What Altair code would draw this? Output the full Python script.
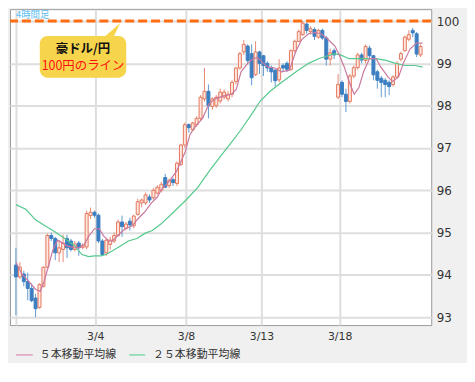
import altair as alt
import pandas as pd

# ---- candle data (4-hour AUD/JPY) ----
open_ = [94.23, 93.95, 94.02, 93.84, 93.68, 93.45, 93.23, 93.73, 94.18, 94.93,
         94.86, 94.52, 94.60, 94.86, 94.80, 94.60, 94.75, 94.65, 94.66, 95.40,
         95.48, 95.41, 94.80, 94.52, 94.72, 94.80, 94.93, 95.25, 95.10, 95.27,
         95.16, 95.43, 95.70, 95.70, 95.84, 95.82, 95.93, 96.00, 96.30, 96.11,
         96.25, 96.16, 96.61, 97.07, 97.55, 97.43, 97.55, 97.70, 98.16, 98.34,
         97.98, 98.00, 98.11, 98.20, 98.16, 98.27, 98.57, 98.89, 99.27, 99.41,
         99.23, 98.73, 99.27, 99.18, 99.00, 98.90, 98.84, 98.61, 98.95, 99.00,
         98.86, 99.30, 99.52, 99.68, 99.93, 99.75, 99.80, 99.62, 99.78, 99.60,
         99.10, 99.30, 98.20, 98.55, 98.27, 98.10, 98.70, 98.90, 99.20, 99.07,
         99.36, 99.18, 98.80, 98.65, 98.60, 98.55, 98.50, 98.68, 99.10, 99.30,
         99.57, 99.78, 99.70, 99.20]
high = [94.64, 94.30, 94.10, 94.05, 93.80, 93.55, 93.80, 94.20, 94.98, 95.00,
        94.90, 94.82, 94.95, 94.95, 94.85, 94.80, 94.80, 94.75, 95.52, 95.59,
        95.52, 95.45, 94.85, 94.85, 94.90, 95.00, 95.30, 95.40, 95.25, 95.35,
        95.42, 95.80, 95.80, 95.95, 95.90, 96.05, 96.12, 96.20, 96.39, 96.28,
        96.30, 96.68, 97.10, 97.60, 97.58, 97.62, 97.75, 98.25, 98.89, 98.50,
        98.20, 98.25, 98.40, 98.38, 98.35, 98.60, 98.92, 99.27, 99.55, 99.45,
        99.45, 99.52, 99.30, 99.20, 99.05, 98.95, 98.86, 99.10, 99.00, 99.05,
        99.33, 99.56, 99.80, 100.00, 99.95, 99.88, 99.85, 99.82, 99.82, 99.65,
        99.35, 99.35, 98.75, 98.60, 98.40, 98.75, 98.95, 99.25, 99.25, 99.45,
        99.42, 99.20, 98.85, 98.70, 98.65, 98.60, 98.72, 99.05, 99.28, 99.66,
        99.78, 99.84, 99.74, 99.45]
low = [93.05, 93.90, 93.73, 93.40, 93.35, 93.00, 93.20, 93.70, 94.15, 94.80,
       94.35, 94.30, 94.30, 94.40, 94.55, 94.55, 94.45, 94.60, 94.60, 95.32,
       95.35, 94.75, 94.45, 94.45, 94.60, 94.75, 94.90, 94.90, 95.05, 95.05,
       95.10, 95.40, 95.60, 95.65, 95.70, 95.78, 95.90, 95.95, 96.05, 96.05,
       96.10, 96.10, 96.58, 97.00, 97.36, 97.40, 97.50, 97.65, 98.10, 97.70,
       97.90, 97.95, 98.05, 98.15, 98.10, 98.20, 98.50, 98.85, 99.20, 99.00,
       98.48, 98.70, 98.75, 98.70, 98.80, 98.55, 98.45, 98.55, 98.80, 98.80,
       98.82, 99.25, 99.50, 99.65, 99.70, 99.68, 99.55, 99.58, 99.55, 98.95,
       98.95, 99.10, 98.15, 98.20, 97.85, 98.05, 98.65, 98.85, 99.00, 99.00,
       99.10, 98.60, 98.40, 98.20, 98.20, 98.25, 98.45, 98.65, 99.05, 99.28,
       99.52, 99.62, 99.15, 99.15]
close = [93.95, 94.18, 93.84, 93.68, 93.39, 93.20, 93.77, 94.18, 94.93, 94.86,
         94.52, 94.64, 94.75, 94.64, 94.60, 94.73, 94.64, 94.70, 95.45, 95.48,
         95.41, 94.80, 94.48, 94.82, 94.82, 94.93, 95.25, 95.14, 95.20, 95.18,
         95.39, 95.73, 95.77, 95.89, 95.77, 96.00, 96.07, 96.14, 96.07, 96.23,
         96.18, 96.64, 97.07, 97.55, 97.48, 97.59, 97.70, 98.20, 98.34, 98.00,
         98.16, 98.20, 98.32, 98.32, 98.27, 98.55, 98.89, 99.23, 99.45, 99.07,
         98.66, 99.27, 99.00, 98.95, 98.89, 98.80, 98.59, 98.89, 98.89, 98.86,
         99.30, 99.52, 99.75, 99.95, 99.78, 99.82, 99.64, 99.78, 99.60, 99.10,
         99.25, 99.20, 98.50, 98.27, 98.10, 98.70, 98.90, 99.20, 99.08, 99.40,
         99.18, 98.73, 98.60, 98.55, 98.50, 98.45, 98.68, 99.00, 99.23, 99.62,
         99.68, 99.72, 99.22, 99.40]

# ---- moving-average lines (candle index, price) ----
ma5_x = [0, 1.5, 3.3, 5.0, 6.2, 7.0, 8.2, 9.4, 10.6, 11.9, 13.1, 14.8, 16.0, 17.3,
         18.5, 20.0, 21.2, 22.4, 23.7, 24.6, 25.9, 27.8, 29.6, 31.0, 32.7, 34.5,
         36.0, 36.9, 38.9, 40.9, 43.1, 44.3, 45.8, 47.5, 49.2, 50.7, 52.9, 54.9,
         56.1, 57.3, 59.0, 60.3, 61.5, 63.0, 64.2, 65.9, 67.6, 69.6, 71.3, 72.8,
         74.5, 76.2, 77.7, 79.4, 81.2, 82.4, 83.6, 84.8, 86.1, 87.3, 88.5, 90.0,
         91.7, 92.9, 94.7, 95.9, 97.4, 98.6, 100.3, 102.0, 103.5]
ma5_y = [94.30, 94.02, 93.84, 93.66, 93.61, 93.80, 94.18, 94.59, 94.82, 94.75,
         94.68, 94.64, 94.64, 94.70, 94.91, 95.09, 95.09, 94.91, 94.80, 94.80,
         94.93, 95.09, 95.16, 95.32, 95.48, 95.70, 95.84, 96.00, 96.20, 96.45,
         96.91, 97.32, 97.52, 97.70, 98.05, 98.16, 98.23, 98.27, 98.39, 98.80,
         99.00, 99.11, 99.14, 99.00, 98.91, 98.89, 98.80, 98.84, 99.30, 99.57,
         99.70, 99.73, 99.70, 99.57, 99.41, 99.18, 98.91, 98.57, 98.27, 98.43,
         98.80, 99.11, 99.11, 98.91, 98.68, 98.57, 98.68, 99.00, 99.34, 99.48,
         99.48]
ma25_x = [0, 2.5, 5.0, 7.4, 9.9, 12.4, 14.8, 16.8, 18.5, 20.0, 21.7, 22.9, 24.6,
          26.6, 28.6, 30.8, 32.8, 34.7, 36.9, 40.1, 43.3, 46.3, 49.2, 52.4, 54.9,
          57.3, 59.8, 62.2, 64.7, 67.9, 71.3, 74.5, 77.0, 79.4, 81.2, 82.6, 84.8,
          86.8, 89.3, 91.7, 94.2, 96.6, 99.1, 101.6, 103.5]
ma25_y = [95.66, 95.55, 95.30, 95.16, 95.02, 94.86, 94.70, 94.48, 94.43, 94.45,
          94.45, 94.48, 94.57, 94.68, 94.80, 94.86, 94.98, 95.05, 95.20, 95.48,
          95.77, 96.07, 96.45, 96.84, 97.14, 97.43, 97.77, 98.11, 98.34, 98.57,
          98.80, 99.00, 99.11, 99.18, 99.23, 99.20, 99.11, 99.11, 99.11, 99.11,
          99.07, 99.00, 98.95, 98.95, 98.91]

# ---- axes ----
tick_pos = [0, 20.2, 43.3, 62.5, 82.4]
tick_labels = ["", "3/4", "3/8", "3/13", "3/18"]
y_ticks = [93, 94, 95, 96, 97, 98, 99, 100]
line_level = [100]

# ---- styles ----
UP_STROKE = "#e6785e"
UP_FILL = "#fce6de"
UP_WICK = "#e88a76"
DOWN_FILL = "#3b7ec1"
DOWN_WICK = "#5f9ad3"
PINK = "#c9789f"
GREEN = "#55c98e"
GRID = "#dedede"
JP = "Noto Sans CJK JP"

W, H = 424, 318
xscale = alt.Scale(domain=[-0.25, 104.45], nice=False, zero=False)
yscale = alt.Scale(domain=[92.812, 100.282], nice=False, zero=False)

label_expr = "".join(
    f"datum.value == {v} ? '{l}' : " for v, l in zip(tick_pos, tick_labels)
) + "''"

xaxis = alt.Axis(values=tick_pos, labelExpr=label_expr, grid=True, gridColor=GRID,
                 gridWidth=2, ticks=False, domain=False, labelPadding=6,
                 labelFontSize=11, labelFont="DejaVu Sans", labelColor="#333333",
                 title=None, labelFlush=False, labelOverlap=False)
yaxis = alt.Axis(orient="right", values=y_ticks, grid=True, gridColor=GRID,
                 gridWidth=2, ticks=False, domain=False, labelPadding=5,
                 labelFontSize=12, labelFont="DejaVu Sans", labelColor="#333333",
                 title=None, labelAlign="left")

df = pd.DataFrame({
    "i": list(range(len(open_))),
    "open": open_, "high": high, "low": low, "close": close,
})
df["dir"] = ["up" if c >= o else "down" for o, c in zip(open_, close)]

wick = alt.Chart(df).mark_rule(strokeWidth=1, clip=True).encode(
    x=alt.X("i:Q", scale=xscale, axis=xaxis),
    y=alt.Y("low:Q", scale=yscale, axis=yaxis),
    y2="high:Q",
    color=alt.Color("dir:N", scale=alt.Scale(domain=["up", "down"], range=[UP_WICK, DOWN_WICK]), legend=None),
)
body = alt.Chart(df).mark_bar(size=3, strokeWidth=1, clip=True).encode(
    x=alt.X("i:Q", scale=xscale),
    y=alt.Y("open:Q", scale=yscale),
    y2="close:Q",
    fill=alt.Fill("dir:N", scale=alt.Scale(domain=["up", "down"], range=[UP_FILL, DOWN_FILL]), legend=None),
    stroke=alt.Stroke("dir:N", scale=alt.Scale(domain=["up", "down"], range=[UP_STROKE, DOWN_FILL]), legend=None),
)
ma25 = alt.Chart(pd.DataFrame({"i": ma25_x, "v": ma25_y})).mark_line(
    color=GREEN, strokeWidth=1.2, clip=True).encode(
    x=alt.X("i:Q", scale=xscale), y=alt.Y("v:Q", scale=yscale))
ma5 = alt.Chart(pd.DataFrame({"i": ma5_x, "v": ma5_y})).mark_line(
    color=PINK, strokeWidth=1.2, clip=True).encode(
    x=alt.X("i:Q", scale=xscale), y=alt.Y("v:Q", scale=yscale))

dash = alt.Chart(pd.DataFrame({"v": line_level})).mark_rule(
    color="#ff6d12", strokeWidth=3, strokeDash=[9, 4]).encode(
    y=alt.Y("v:Q", scale=yscale))

one = pd.DataFrame({"t": ["4時間足"]})
label4h = alt.Chart(one).mark_text(
    align="left", baseline="top", font=JP, fontSize=9.5, color="#5bbdee").encode(
    x=alt.value(6), y=alt.value(1), text="t:N")

BUB = "#f6d44c"
bubble = alt.Chart(one).mark_rect(color=BUB, cornerRadius=8).encode(
    x=alt.value(30), x2=alt.value(117), y=alt.value(27), y2=alt.value(69))
pointer = alt.Chart(one).mark_point(
    shape="M-0.95,0.9L0.15,0.9L0.95,-0.75Z", size=400, filled=True,
    fill=BUB, strokeWidth=0, opacity=1).encode(
    x=alt.value(101.5), y=alt.value(21.5))
txt1 = alt.Chart(pd.DataFrame({"t": ["豪ドル/円"]})).mark_text(
    font=JP, fontSize=12.5, fontWeight="bold", color="#111111", baseline="middle").encode(
    x=alt.value(73.5), y=alt.value(40), text="t:N")
txt2 = alt.Chart(pd.DataFrame({"t": ["100円のライン"]})).mark_text(
    font=JP, fontSize=12.5, color="#ff1010", baseline="middle").encode(
    x=alt.value(73.5), y=alt.value(57), text="t:N")

LY = 348
leg1_line = alt.Chart(one).mark_rule(color="#dca0bf", strokeWidth=1.5).encode(
    x=alt.value(6), x2=alt.value(23), y=alt.value(LY))
leg1_txt = alt.Chart(pd.DataFrame({"t": ["５本移動平均線"]})).mark_text(
    font=JP, fontSize=11, color="#333333", align="left", baseline="middle").encode(
    x=alt.value(30), y=alt.value(LY), text="t:N")
leg2_line = alt.Chart(one).mark_rule(color="#7fd8ab", strokeWidth=1.5).encode(
    x=alt.value(120), x2=alt.value(136), y=alt.value(LY))
leg2_txt = alt.Chart(pd.DataFrame({"t": ["２５本移動平均線"]})).mark_text(
    font=JP, fontSize=11, color="#333333", align="left", baseline="middle").encode(
    x=alt.value(144), y=alt.value(LY), text="t:N")

chart = alt.layer(
    wick, body, ma25, ma5, dash, label4h, bubble, pointer, txt1, txt2,
    leg1_line, leg1_txt, leg2_line, leg2_txt,
).properties(
    width=W, height=H, background="#f0f0f0",
    padding={"left": 0, "top": 0, "right": 8, "bottom": 2},
).configure_view(stroke="#9a9a9a", strokeWidth=1, fill="#ffffff")

chart.save("out.html", embed_options={"renderer": "svg", "actions": False})
